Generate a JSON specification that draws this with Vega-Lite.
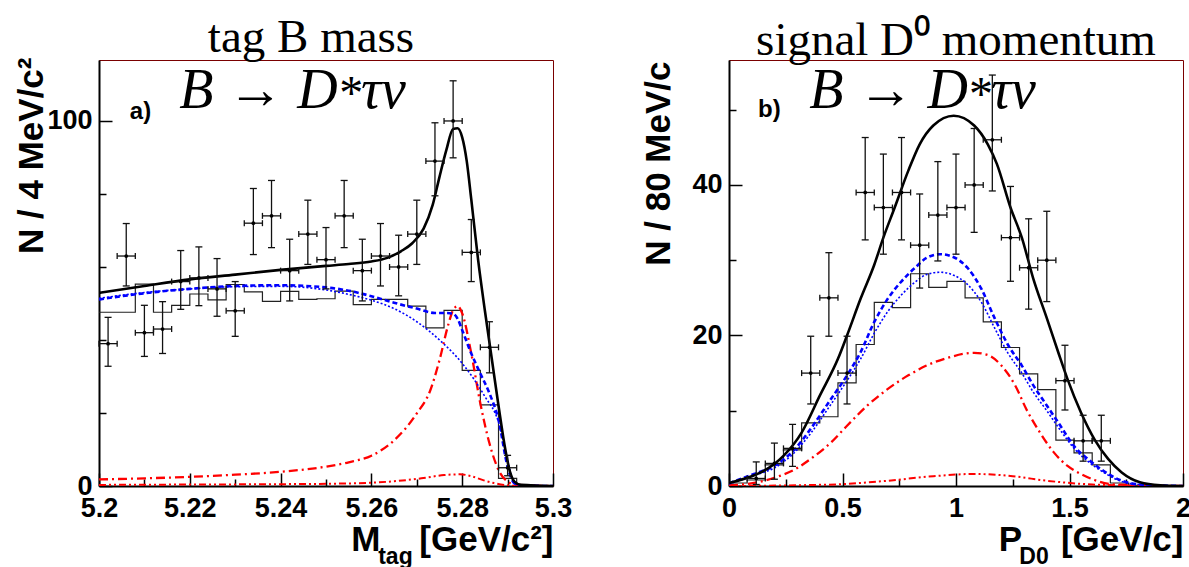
{
  "$schema": "https://vega.github.io/schema/vega-lite/v6.json",
  "autosize": {"type": "pad"},
  "padding": {"left": 13, "top": 13, "right": 0, "bottom": 0},
  "background": "white",
  "spacing": 176,
  "bounds": "flush",
  "config": {
    "view": {"stroke": "#7a0000", "strokeWidth": 1},
    "axis": {
      "grid": false,
      "domainColor": "black",
      "domainWidth": 2,
      "tickColor": "black",
      "tickWidth": 1.5,
      "labelFont": "Liberation Sans",
      "labelFontWeight": "bold",
      "labelFontSize": 27,
      "labelColor": "black",
      "labelOverlap": false,
      "labelFlush": false,
      "titleFont": "Liberation Sans",
      "titleFontWeight": "bold",
      "titleFontSize": 35,
      "titleColor": "black"
    },
    "title": {"font": "Liberation Serif", "fontSize": 47, "fontWeight": "normal", "color": "black", "anchor": "middle", "frame": "group", "baseline": "alphabetic"}
  },
  "datasets": {
    "a_pts": [
      {"x": 5.202, "xlo": 5.200, "xhi": 5.204, "y": 39, "ylo": 32.8, "yhi": 46.2},
      {"x": 5.206, "xlo": 5.204, "xhi": 5.208, "y": 63, "ylo": 54.8, "yhi": 71.9},
      {"x": 5.210, "xlo": 5.208, "xhi": 5.212, "y": 42, "ylo": 35.5, "yhi": 49.5},
      {"x": 5.214, "xlo": 5.212, "xhi": 5.216, "y": 43, "ylo": 36.3, "yhi": 50.5},
      {"x": 5.218, "xlo": 5.216, "xhi": 5.220, "y": 56, "ylo": 48.4, "yhi": 64.5},
      {"x": 5.222, "xlo": 5.220, "xhi": 5.224, "y": 57, "ylo": 49.4, "yhi": 65.5},
      {"x": 5.226, "xlo": 5.224, "xhi": 5.228, "y": 54, "ylo": 46.5, "yhi": 62.3},
      {"x": 5.230, "xlo": 5.228, "xhi": 5.232, "y": 48, "ylo": 41.0, "yhi": 56.0},
      {"x": 5.234, "xlo": 5.232, "xhi": 5.236, "y": 72, "ylo": 63.4, "yhi": 81.5},
      {"x": 5.238, "xlo": 5.236, "xhi": 5.240, "y": 74, "ylo": 65.3, "yhi": 83.7},
      {"x": 5.242, "xlo": 5.240, "xhi": 5.244, "y": 59, "ylo": 50.7, "yhi": 67.6},
      {"x": 5.246, "xlo": 5.244, "xhi": 5.248, "y": 69, "ylo": 60.7, "yhi": 78.3},
      {"x": 5.250, "xlo": 5.248, "xhi": 5.252, "y": 62, "ylo": 54.0, "yhi": 70.8},
      {"x": 5.254, "xlo": 5.252, "xhi": 5.256, "y": 74, "ylo": 65.3, "yhi": 83.7},
      {"x": 5.258, "xlo": 5.256, "xhi": 5.260, "y": 59, "ylo": 50.7, "yhi": 67.6},
      {"x": 5.262, "xlo": 5.260, "xhi": 5.264, "y": 63, "ylo": 54.8, "yhi": 71.9},
      {"x": 5.266, "xlo": 5.264, "xhi": 5.268, "y": 60, "ylo": 52.1, "yhi": 68.7},
      {"x": 5.270, "xlo": 5.268, "xhi": 5.272, "y": 69, "ylo": 60.7, "yhi": 78.3},
      {"x": 5.274, "xlo": 5.272, "xhi": 5.276, "y": 89, "ylo": 79.5, "yhi": 99.5},
      {"x": 5.278, "xlo": 5.276, "xhi": 5.280, "y": 100, "ylo": 89.9, "yhi": 111.0},
      {"x": 5.282, "xlo": 5.280, "xhi": 5.284, "y": 64, "ylo": 56.0, "yhi": 73.0},
      {"x": 5.286, "xlo": 5.284, "xhi": 5.288, "y": 38, "ylo": 31.0, "yhi": 45.0},
      {"x": 5.290, "xlo": 5.288, "xhi": 5.292, "y": 5, "ylo": 2.8, "yhi": 8.4}
    ],
    "a_hist": [
      {"x": 5.200, "n": 47.6}, {"x": 5.204, "n": 47.6}, {"x": 5.208, "n": 55.3}, {"x": 5.212, "n": 47.6},
      {"x": 5.216, "n": 49.5}, {"x": 5.220, "n": 52.6}, {"x": 5.224, "n": 51.0}, {"x": 5.228, "n": 55.2},
      {"x": 5.232, "n": 53.2}, {"x": 5.236, "n": 50.6}, {"x": 5.240, "n": 53.3}, {"x": 5.244, "n": 51.1},
      {"x": 5.248, "n": 51.3}, {"x": 5.252, "n": 53.4}, {"x": 5.256, "n": 49.7}, {"x": 5.260, "n": 51.1},
      {"x": 5.264, "n": 51.1}, {"x": 5.268, "n": 49.3}, {"x": 5.272, "n": 43.3}, {"x": 5.276, "n": 48.1},
      {"x": 5.280, "n": 31.7}, {"x": 5.284, "n": 22.2}, {"x": 5.288, "n": 2.1}, {"x": 5.292, "n": 0.3},
      {"x": 5.296, "n": 0}, {"x": 5.300, "n": 0}
    ],
    "a_fit": [
      {"c": "tot", "x": 5.200, "y": 52.9}, {"c": "tot", "x": 5.210, "y": 54.8}, {"c": "tot", "x": 5.220, "y": 56.6},
      {"c": "tot", "x": 5.230, "y": 57.9}, {"c": "tot", "x": 5.240, "y": 59.2}, {"c": "tot", "x": 5.250, "y": 60.3},
      {"c": "tot", "x": 5.255, "y": 60.8}, {"c": "tot", "x": 5.260, "y": 61.5}, {"c": "tot", "x": 5.2635, "y": 62.5},
      {"c": "tot", "x": 5.2665, "y": 64.3}, {"c": "tot", "x": 5.269, "y": 66.5}, {"c": "tot", "x": 5.2715, "y": 70.5},
      {"c": "tot", "x": 5.2735, "y": 77}, {"c": "tot", "x": 5.275, "y": 84.7}, {"c": "tot", "x": 5.2765, "y": 92},
      {"c": "tot", "x": 5.278, "y": 97.8}, {"c": "tot", "x": 5.279, "y": 98.0}, {"c": "tot", "x": 5.280, "y": 95.5},
      {"c": "tot", "x": 5.281, "y": 89}, {"c": "tot", "x": 5.282, "y": 78.5}, {"c": "tot", "x": 5.2835, "y": 62},
      {"c": "tot", "x": 5.285, "y": 48}, {"c": "tot", "x": 5.2865, "y": 35}, {"c": "tot", "x": 5.288, "y": 22},
      {"c": "tot", "x": 5.2895, "y": 10}, {"c": "tot", "x": 5.2905, "y": 4}, {"c": "tot", "x": 5.2915, "y": 1.2},
      {"c": "tot", "x": 5.293, "y": 0.3}, {"c": "tot", "x": 5.300, "y": 0},
      {"c": "bkg", "x": 5.200, "y": 51.1}, {"c": "bkg", "x": 5.210, "y": 52.8}, {"c": "bkg", "x": 5.220, "y": 54.0},
      {"c": "bkg", "x": 5.230, "y": 54.8}, {"c": "bkg", "x": 5.240, "y": 55.0}, {"c": "bkg", "x": 5.250, "y": 54.4},
      {"c": "bkg", "x": 5.255, "y": 53.5}, {"c": "bkg", "x": 5.260, "y": 52.0}, {"c": "bkg", "x": 5.265, "y": 50.2},
      {"c": "bkg", "x": 5.270, "y": 48.6}, {"c": "bkg", "x": 5.274, "y": 47.4}, {"c": "bkg", "x": 5.2765, "y": 47.4},
      {"c": "bkg", "x": 5.278, "y": 47.2}, {"c": "bkg", "x": 5.279, "y": 45.8}, {"c": "bkg", "x": 5.280, "y": 42.7},
      {"c": "bkg", "x": 5.282, "y": 36.3}, {"c": "bkg", "x": 5.284, "y": 30.8}, {"c": "bkg", "x": 5.286, "y": 25.4},
      {"c": "bkg", "x": 5.288, "y": 18.1}, {"c": "bkg", "x": 5.290, "y": 5.3}, {"c": "bkg", "x": 5.2915, "y": 0.7},
      {"c": "bkg", "x": 5.293, "y": 0.1}, {"c": "bkg", "x": 5.300, "y": 0},
      {"c": "dot", "x": 5.200, "y": 51.4}, {"c": "dot", "x": 5.210, "y": 53.0}, {"c": "dot", "x": 5.220, "y": 54.0},
      {"c": "dot", "x": 5.230, "y": 54.6}, {"c": "dot", "x": 5.240, "y": 54.7}, {"c": "dot", "x": 5.250, "y": 53.7},
      {"c": "dot", "x": 5.255, "y": 52.5}, {"c": "dot", "x": 5.260, "y": 50.9}, {"c": "dot", "x": 5.265, "y": 48.6},
      {"c": "dot", "x": 5.270, "y": 45.0}, {"c": "dot", "x": 5.275, "y": 40.0}, {"c": "dot", "x": 5.280, "y": 33.6},
      {"c": "dot", "x": 5.285, "y": 24.5}, {"c": "dot", "x": 5.288, "y": 17.5}, {"c": "dot", "x": 5.290, "y": 7.1},
      {"c": "dot", "x": 5.2915, "y": 0.7}, {"c": "dot", "x": 5.293, "y": 0.1}, {"c": "dot", "x": 5.300, "y": 0},
      {"c": "sig", "x": 5.200, "y": 1.8}, {"c": "sig", "x": 5.210, "y": 2.1}, {"c": "sig", "x": 5.220, "y": 2.5},
      {"c": "sig", "x": 5.230, "y": 3.1}, {"c": "sig", "x": 5.240, "y": 3.9}, {"c": "sig", "x": 5.250, "y": 5.3},
      {"c": "sig", "x": 5.255, "y": 6.5}, {"c": "sig", "x": 5.260, "y": 8.3}, {"c": "sig", "x": 5.265, "y": 12.5},
      {"c": "sig", "x": 5.270, "y": 19.9}, {"c": "sig", "x": 5.273, "y": 26.3}, {"c": "sig", "x": 5.275, "y": 34.5},
      {"c": "sig", "x": 5.277, "y": 44.5}, {"c": "sig", "x": 5.278, "y": 48.2}, {"c": "sig", "x": 5.279, "y": 49.3},
      {"c": "sig", "x": 5.280, "y": 47.3}, {"c": "sig", "x": 5.282, "y": 36.3}, {"c": "sig", "x": 5.284, "y": 22.6},
      {"c": "sig", "x": 5.286, "y": 11.7}, {"c": "sig", "x": 5.288, "y": 4.4}, {"c": "sig", "x": 5.290, "y": 1.2},
      {"c": "sig", "x": 5.292, "y": 0.3}, {"c": "sig", "x": 5.300, "y": 0},
      {"c": "sig2", "x": 5.200, "y": 0.3}, {"c": "sig2", "x": 5.220, "y": 0.4}, {"c": "sig2", "x": 5.240, "y": 0.5},
      {"c": "sig2", "x": 5.250, "y": 0.6}, {"c": "sig2", "x": 5.260, "y": 0.9}, {"c": "sig2", "x": 5.265, "y": 1.3},
      {"c": "sig2", "x": 5.271, "y": 2.1}, {"c": "sig2", "x": 5.276, "y": 3.0}, {"c": "sig2", "x": 5.2795, "y": 3.2},
      {"c": "sig2", "x": 5.282, "y": 2.7}, {"c": "sig2", "x": 5.2846, "y": 1.6}, {"c": "sig2", "x": 5.287, "y": 0.8},
      {"c": "sig2", "x": 5.2898, "y": 0.2}, {"c": "sig2", "x": 5.292, "y": 0.05}, {"c": "sig2", "x": 5.300, "y": 0}
    ],
    "b_pts": [
      {"x": 0.12, "xlo": 0.08, "xhi": 0.16, "y": 1, "ylo": 0.2, "yhi": 3.2},
      {"x": 0.20, "xlo": 0.16, "xhi": 0.24, "y": 3, "ylo": 0.9, "yhi": 5.7},
      {"x": 0.28, "xlo": 0.24, "xhi": 0.32, "y": 5, "ylo": 2.6, "yhi": 8.2},
      {"x": 0.36, "xlo": 0.32, "xhi": 0.40, "y": 15, "ylo": 10.9, "yhi": 19.9},
      {"x": 0.44, "xlo": 0.40, "xhi": 0.48, "y": 25, "ylo": 19.9, "yhi": 31.0},
      {"x": 0.52, "xlo": 0.48, "xhi": 0.56, "y": 15, "ylo": 10.9, "yhi": 19.9},
      {"x": 0.60, "xlo": 0.56, "xhi": 0.64, "y": 39, "ylo": 32.7, "yhi": 46.3},
      {"x": 0.68, "xlo": 0.64, "xhi": 0.72, "y": 37, "ylo": 30.8, "yhi": 44.1},
      {"x": 0.76, "xlo": 0.72, "xhi": 0.80, "y": 39, "ylo": 32.7, "yhi": 46.3},
      {"x": 0.84, "xlo": 0.80, "xhi": 0.88, "y": 32, "ylo": 26.3, "yhi": 38.8},
      {"x": 0.92, "xlo": 0.88, "xhi": 0.96, "y": 36, "ylo": 29.9, "yhi": 43.1},
      {"x": 1.00, "xlo": 0.96, "xhi": 1.04, "y": 37, "ylo": 30.8, "yhi": 44.1},
      {"x": 1.08, "xlo": 1.04, "xhi": 1.12, "y": 40, "ylo": 33.7, "yhi": 47.5},
      {"x": 1.16, "xlo": 1.12, "xhi": 1.20, "y": 46, "ylo": 39.2, "yhi": 54.6},
      {"x": 1.24, "xlo": 1.20, "xhi": 1.28, "y": 33, "ylo": 27.2, "yhi": 39.8},
      {"x": 1.32, "xlo": 1.28, "xhi": 1.36, "y": 29, "ylo": 23.5, "yhi": 35.5},
      {"x": 1.40, "xlo": 1.36, "xhi": 1.44, "y": 30, "ylo": 24.5, "yhi": 36.5},
      {"x": 1.48, "xlo": 1.44, "xhi": 1.52, "y": 14, "ylo": 10.1, "yhi": 18.7},
      {"x": 1.56, "xlo": 1.52, "xhi": 1.60, "y": 6, "ylo": 3.3, "yhi": 9.4},
      {"x": 1.64, "xlo": 1.60, "xhi": 1.68, "y": 6, "ylo": 3.3, "yhi": 9.4}
    ],
    "b_hist": [
      {"x": 0.00, "n": 0.4}, {"x": 0.08, "n": 0.8}, {"x": 0.16, "n": 2.8}, {"x": 0.24, "n": 4.8},
      {"x": 0.32, "n": 8.4}, {"x": 0.40, "n": 9.2}, {"x": 0.48, "n": 13.7}, {"x": 0.56, "n": 18.8},
      {"x": 0.64, "n": 24.4}, {"x": 0.72, "n": 23.7}, {"x": 0.80, "n": 28.2}, {"x": 0.88, "n": 26.4},
      {"x": 0.96, "n": 27.2}, {"x": 1.04, "n": 25.0}, {"x": 1.12, "n": 21.8}, {"x": 1.20, "n": 18.4},
      {"x": 1.28, "n": 14.9}, {"x": 1.36, "n": 12.8}, {"x": 1.44, "n": 6.1}, {"x": 1.52, "n": 4.4},
      {"x": 1.60, "n": 2.8}, {"x": 1.68, "n": 0.4}, {"x": 1.76, "n": 0.1}, {"x": 1.84, "n": 0},
      {"x": 1.92, "n": 0}, {"x": 2.00, "n": 0}
    ],
    "b_fit": [
      {"c": "tot", "x": 0.00, "y": 0.4}, {"c": "tot", "x": 0.10, "y": 1.3}, {"c": "tot", "x": 0.14, "y": 1.8},
      {"c": "tot", "x": 0.24, "y": 4.0}, {"c": "tot", "x": 0.32, "y": 7.1}, {"c": "tot", "x": 0.40, "y": 12.0},
      {"c": "tot", "x": 0.48, "y": 16.9}, {"c": "tot", "x": 0.52, "y": 20.0}, {"c": "tot", "x": 0.58, "y": 24.9},
      {"c": "tot", "x": 0.64, "y": 29.4}, {"c": "tot", "x": 0.68, "y": 33.0}, {"c": "tot", "x": 0.73, "y": 37.0},
      {"c": "tot", "x": 0.79, "y": 41.9}, {"c": "tot", "x": 0.84, "y": 45.4}, {"c": "tot", "x": 0.90, "y": 47.9},
      {"c": "tot", "x": 0.99, "y": 49.2}, {"c": "tot", "x": 1.08, "y": 47.9}, {"c": "tot", "x": 1.14, "y": 45.4},
      {"c": "tot", "x": 1.18, "y": 42.8}, {"c": "tot", "x": 1.24, "y": 37.0}, {"c": "tot", "x": 1.29, "y": 33.0},
      {"c": "tot", "x": 1.34, "y": 27.6}, {"c": "tot", "x": 1.40, "y": 22.3}, {"c": "tot", "x": 1.45, "y": 17.8},
      {"c": "tot", "x": 1.49, "y": 14.3}, {"c": "tot", "x": 1.55, "y": 9.8}, {"c": "tot", "x": 1.61, "y": 6.2},
      {"c": "tot", "x": 1.67, "y": 3.6}, {"c": "tot", "x": 1.73, "y": 1.8}, {"c": "tot", "x": 1.81, "y": 0.5},
      {"c": "tot", "x": 1.90, "y": 0.1}, {"c": "tot", "x": 2.00, "y": 0.0},
      {"c": "bkg", "x": 0.00, "y": 0.36}, {"c": "bkg", "x": 0.11, "y": 1.6}, {"c": "bkg", "x": 0.20, "y": 2.7},
      {"c": "bkg", "x": 0.29, "y": 4.9}, {"c": "bkg", "x": 0.36, "y": 7.6}, {"c": "bkg", "x": 0.45, "y": 11.6},
      {"c": "bkg", "x": 0.52, "y": 14.7}, {"c": "bkg", "x": 0.58, "y": 17.8}, {"c": "bkg", "x": 0.64, "y": 21.8},
      {"c": "bkg", "x": 0.70, "y": 24.9}, {"c": "bkg", "x": 0.76, "y": 27.2}, {"c": "bkg", "x": 0.82, "y": 29.0},
      {"c": "bkg", "x": 0.87, "y": 30.3}, {"c": "bkg", "x": 0.93, "y": 30.8}, {"c": "bkg", "x": 0.99, "y": 30.4},
      {"c": "bkg", "x": 1.05, "y": 29.0}, {"c": "bkg", "x": 1.11, "y": 26.3}, {"c": "bkg", "x": 1.17, "y": 22.3},
      {"c": "bkg", "x": 1.23, "y": 18.7}, {"c": "bkg", "x": 1.29, "y": 16.0}, {"c": "bkg", "x": 1.34, "y": 13.4},
      {"c": "bkg", "x": 1.40, "y": 10.7}, {"c": "bkg", "x": 1.46, "y": 8.0}, {"c": "bkg", "x": 1.52, "y": 5.3},
      {"c": "bkg", "x": 1.58, "y": 3.6}, {"c": "bkg", "x": 1.64, "y": 2.2}, {"c": "bkg", "x": 1.73, "y": 0.7},
      {"c": "bkg", "x": 1.81, "y": 0.2}, {"c": "bkg", "x": 2.00, "y": 0},
      {"c": "dot", "x": 0.00, "y": 0.27}, {"c": "dot", "x": 0.11, "y": 1.4}, {"c": "dot", "x": 0.20, "y": 2.4},
      {"c": "dot", "x": 0.29, "y": 4.5}, {"c": "dot", "x": 0.36, "y": 7.0}, {"c": "dot", "x": 0.45, "y": 10.9},
      {"c": "dot", "x": 0.52, "y": 14.0}, {"c": "dot", "x": 0.58, "y": 16.9}, {"c": "dot", "x": 0.64, "y": 20.3},
      {"c": "dot", "x": 0.70, "y": 23.2}, {"c": "dot", "x": 0.76, "y": 25.4}, {"c": "dot", "x": 0.82, "y": 27.1},
      {"c": "dot", "x": 0.87, "y": 28.1}, {"c": "dot", "x": 0.93, "y": 28.4}, {"c": "dot", "x": 0.99, "y": 28.0},
      {"c": "dot", "x": 1.05, "y": 26.8}, {"c": "dot", "x": 1.11, "y": 24.5}, {"c": "dot", "x": 1.17, "y": 21.0},
      {"c": "dot", "x": 1.23, "y": 17.6}, {"c": "dot", "x": 1.29, "y": 15.0}, {"c": "dot", "x": 1.34, "y": 12.5},
      {"c": "dot", "x": 1.40, "y": 10.0}, {"c": "dot", "x": 1.46, "y": 7.4}, {"c": "dot", "x": 1.52, "y": 5.0},
      {"c": "dot", "x": 1.58, "y": 3.3}, {"c": "dot", "x": 1.64, "y": 2.0}, {"c": "dot", "x": 1.73, "y": 0.6},
      {"c": "dot", "x": 1.81, "y": 0.2}, {"c": "dot", "x": 2.00, "y": 0},
      {"c": "sig", "x": 0.00, "y": 0.1}, {"c": "sig", "x": 0.11, "y": 0.4}, {"c": "sig", "x": 0.20, "y": 1.1},
      {"c": "sig", "x": 0.29, "y": 2.2}, {"c": "sig", "x": 0.36, "y": 3.6}, {"c": "sig", "x": 0.45, "y": 5.8},
      {"c": "sig", "x": 0.52, "y": 8.0}, {"c": "sig", "x": 0.61, "y": 10.7}, {"c": "sig", "x": 0.70, "y": 12.9},
      {"c": "sig", "x": 0.79, "y": 14.7}, {"c": "sig", "x": 0.87, "y": 16.0}, {"c": "sig", "x": 0.96, "y": 17.0},
      {"c": "sig", "x": 1.08, "y": 17.7}, {"c": "sig", "x": 1.14, "y": 17.4}, {"c": "sig", "x": 1.20, "y": 16.0},
      {"c": "sig", "x": 1.26, "y": 13.4}, {"c": "sig", "x": 1.31, "y": 10.2}, {"c": "sig", "x": 1.37, "y": 7.1},
      {"c": "sig", "x": 1.43, "y": 4.5}, {"c": "sig", "x": 1.49, "y": 2.7}, {"c": "sig", "x": 1.55, "y": 1.6},
      {"c": "sig", "x": 1.61, "y": 0.8}, {"c": "sig", "x": 1.70, "y": 0.2}, {"c": "sig", "x": 2.00, "y": 0},
      {"c": "sig2", "x": 0.00, "y": 0}, {"c": "sig2", "x": 0.30, "y": 0.1}, {"c": "sig2", "x": 0.50, "y": 0.25},
      {"c": "sig2", "x": 0.70, "y": 0.7}, {"c": "sig2", "x": 0.90, "y": 1.3}, {"c": "sig2", "x": 1.08, "y": 1.6},
      {"c": "sig2", "x": 1.25, "y": 1.3}, {"c": "sig2", "x": 1.40, "y": 0.7}, {"c": "sig2", "x": 1.60, "y": 0.2},
      {"c": "sig2", "x": 1.80, "y": 0.05}, {"c": "sig2", "x": 2.00, "y": 0}
    ]
  },
  "hconcat": [
    {
      "width": 454,
      "height": 426,
      "title": {"text": "tag B mass", "dx": -15, "offset": -5},
      "layer": [
        {
          "data": {"name": "a_hist"},
          "mark": {"type": "line", "interpolate": "step-after", "color": "#222222", "strokeWidth": 1.2, "clip": true},
          "encoding": {
            "x": {"field": "x", "type": "quantitative",
              "scale": {"domain": [5.2, 5.3], "nice": false, "zero": false},
              "axis": {
                "values": [5.2, 5.205, 5.21, 5.215, 5.22, 5.225, 5.23, 5.235, 5.24, 5.245, 5.25, 5.255, 5.26, 5.265, 5.27, 5.275, 5.28, 5.285, 5.29, 5.295, 5.3],
                "format": "~g",
                "labelExpr": "abs(datum.value*50 - round(datum.value*50)) < 0.001 ? datum.label : ''",
                "tickSize": {"condition": {"test": "abs(datum.value*50 - round(datum.value*50)) < 0.001", "value": -13}, "value": -7},
                "labelPadding": 22,
                "title": "M\u00a0\u00a0\u00a0\u00a0[GeV/c²]",
                "titleFontSize": 35,
                "titleAnchor": "end",
                "titleAlign": "right",
                "titleBaseline": "alphabetic",
                "titleX": 454,
                "titleY": 64
              }
            },
            "y": {"field": "n", "type": "quantitative",
              "scale": {"domain": [0, 116.7], "nice": false},
              "axis": {
                "values": [0, 10, 20, 30, 40, 50, 60, 70, 80, 90, 100, 110],
                "labelExpr": "datum.value % 50 == 0 ? datum.label : ''",
                "tickSize": {"condition": {"test": "datum.value % 50 == 0", "value": -13}, "value": -7},
                "labelPadding": 20,
                "title": "N / 4 MeV/c²",
                "titleAngle": -90,
                "titleAnchor": "end",
                "titleAlign": "right",
                "titleBaseline": "alphabetic",
                "titleX": -57,
                "titleY": -3
              }
            }
          }
        },
        {
          "data": {"name": "a_fit"},
          "transform": [{"filter": "datum.c == 'sig2'"}],
          "mark": {"type": "line", "interpolate": "monotone", "color": "#ff0000", "strokeWidth": 2, "strokeDash": [7, 3, 2, 3, 2, 3], "clip": true},
          "encoding": {"x": {"field": "x", "type": "quantitative"}, "y": {"field": "y", "type": "quantitative"}}
        },
        {
          "data": {"name": "a_fit"},
          "transform": [{"filter": "datum.c == 'sig'"}],
          "mark": {"type": "line", "interpolate": "monotone", "color": "#ff0000", "strokeWidth": 2.3, "strokeDash": [9, 4, 2, 4], "clip": true},
          "encoding": {"x": {"field": "x", "type": "quantitative"}, "y": {"field": "y", "type": "quantitative"}}
        },
        {
          "data": {"name": "a_fit"},
          "transform": [{"filter": "datum.c == 'dot'"}],
          "mark": {"type": "line", "interpolate": "monotone", "color": "#0000ff", "strokeWidth": 1.6, "strokeDash": [2, 2], "clip": true},
          "encoding": {"x": {"field": "x", "type": "quantitative"}, "y": {"field": "y", "type": "quantitative"}}
        },
        {
          "data": {"name": "a_fit"},
          "transform": [{"filter": "datum.c == 'bkg'"}],
          "mark": {"type": "line", "interpolate": "monotone", "color": "#0000ff", "strokeWidth": 2.6, "strokeDash": [5, 3], "clip": true},
          "encoding": {"x": {"field": "x", "type": "quantitative"}, "y": {"field": "y", "type": "quantitative"}}
        },
        {
          "data": {"name": "a_fit"},
          "transform": [{"filter": "datum.c == 'tot'"}],
          "mark": {"type": "line", "interpolate": "monotone", "color": "#000000", "strokeWidth": 2.6, "clip": true},
          "encoding": {"x": {"field": "x", "type": "quantitative"}, "y": {"field": "y", "type": "quantitative"}}
        },
        {
          "data": {"name": "a_pts"},
          "mark": {"type": "rule", "color": "#111111", "strokeWidth": 1.3},
          "encoding": {"x": {"field": "x", "type": "quantitative"}, "y": {"field": "ylo", "type": "quantitative"}, "y2": {"field": "yhi"}}
        },
        {
          "data": {"name": "a_pts"},
          "mark": {"type": "rule", "color": "#111111", "strokeWidth": 1.3},
          "encoding": {"x": {"field": "xlo", "type": "quantitative"}, "x2": {"field": "xhi"}, "y": {"field": "y", "type": "quantitative"}}
        },
        {
          "data": {"name": "a_pts"},
          "mark": {"type": "tick", "orient": "horizontal", "size": 7, "thickness": 1.3, "color": "#111111", "opacity": 1},
          "encoding": {"x": {"field": "x", "type": "quantitative"}, "y": {"field": "yhi", "type": "quantitative"}}
        },
        {
          "data": {"name": "a_pts"},
          "mark": {"type": "tick", "orient": "horizontal", "size": 7, "thickness": 1.3, "color": "#111111", "opacity": 1},
          "encoding": {"x": {"field": "x", "type": "quantitative"}, "y": {"field": "ylo", "type": "quantitative"}}
        },
        {
          "data": {"name": "a_pts"},
          "mark": {"type": "tick", "orient": "vertical", "size": 6, "thickness": 1.3, "color": "#111111", "opacity": 1},
          "encoding": {"x": {"field": "xlo", "type": "quantitative"}, "y": {"field": "y", "type": "quantitative"}}
        },
        {
          "data": {"name": "a_pts"},
          "mark": {"type": "tick", "orient": "vertical", "size": 6, "thickness": 1.3, "color": "#111111", "opacity": 1},
          "encoding": {"x": {"field": "xhi", "type": "quantitative"}, "y": {"field": "y", "type": "quantitative"}}
        },
        {
          "data": {"name": "a_pts"},
          "mark": {"type": "point", "shape": "circle", "filled": true, "size": 14, "color": "black", "opacity": 1},
          "encoding": {"x": {"field": "x", "type": "quantitative"}, "y": {"field": "y", "type": "quantitative"}}
        },
        {
          "data": {"values": [{}]},
          "mark": {"type": "text", "text": "B → D", "font": "Liberation Serif", "fontStyle": "italic", "fontSize": 56, "align": "right", "baseline": "alphabetic", "color": "black"},
          "encoding": {"x": {"datum": 5.2526}, "y": {"datum": 103.6}}
        },
        {
          "data": {"values": [{}]},
          "mark": {"type": "text", "text": "*", "font": "Liberation Serif", "fontSize": 48, "align": "left", "baseline": "alphabetic", "color": "black"},
          "encoding": {"x": {"datum": 5.2529}, "y": {"datum": 103.2}}
        },
        {
          "data": {"values": [{}]},
          "mark": {"type": "text", "text": "τν", "font": "Liberation Serif", "fontStyle": "italic", "fontSize": 56, "align": "left", "baseline": "alphabetic", "color": "black"},
          "encoding": {"x": {"datum": 5.2577}, "y": {"datum": 103.6}}
        },
        {
          "data": {"values": [{}]},
          "mark": {"type": "text", "text": "a)", "font": "Liberation Sans", "fontWeight": "bold", "fontSize": 24, "align": "left", "baseline": "alphabetic", "color": "black"},
          "encoding": {"x": {"datum": 5.2068}, "y": {"datum": 100.5}}
        },
        {
          "data": {"values": [{}]},
          "mark": {"type": "text", "text": "tag", "font": "Liberation Sans", "fontWeight": "bold", "fontSize": 23, "align": "left", "baseline": "alphabetic", "color": "black"},
          "encoding": {"x": {"datum": 5.2615}, "y": {"datum": -21.4}}
        }
      ]
    },
    {
      "width": 454,
      "height": 426,
      "title": {"text": "signal D⁰ momentum", "offset": -5},
      "layer": [
        {
          "data": {"name": "b_hist"},
          "mark": {"type": "line", "interpolate": "step-after", "color": "#222222", "strokeWidth": 1.2, "clip": true},
          "encoding": {
            "x": {"field": "x", "type": "quantitative",
              "scale": {"domain": [0, 2], "nice": false, "zero": false},
              "axis": {
                "values": [0, 0.25, 0.5, 0.75, 1, 1.25, 1.5, 1.75, 2],
                "format": "~g",
                "labelExpr": "abs(datum.value*2 - round(datum.value*2)) < 0.001 ? datum.label : ''",
                "tickSize": {"condition": {"test": "abs(datum.value*2 - round(datum.value*2)) < 0.001", "value": -13}, "value": -7},
                "labelPadding": 22,
                "title": "P\u00a0\u00a0\u00a0\u00a0[GeV/c]",
                "titleFontSize": 35,
                "titleAnchor": "end",
                "titleAlign": "right",
                "titleBaseline": "alphabetic",
                "titleX": 454,
                "titleY": 64
              }
            },
            "y": {"field": "n", "type": "quantitative",
              "scale": {"domain": [0, 56.6], "nice": false},
              "axis": {
                "values": [0, 5, 10, 15, 20, 25, 30, 35, 40, 45, 50, 55],
                "labelExpr": "datum.value % 20 == 0 ? datum.label : ''",
                "tickSize": {"condition": {"test": "datum.value % 20 == 0", "value": -13}, "value": -7},
                "labelPadding": 20,
                "title": "N / 80 MeV/c",
                "titleAngle": -90,
                "titleAnchor": "end",
                "titleAlign": "right",
                "titleBaseline": "alphabetic",
                "titleX": -60,
                "titleY": 1
              }
            }
          }
        },
        {
          "data": {"name": "b_fit"},
          "transform": [{"filter": "datum.c == 'sig2'"}],
          "mark": {"type": "line", "interpolate": "monotone", "color": "#ff0000", "strokeWidth": 2, "strokeDash": [7, 3, 2, 3, 2, 3], "clip": true},
          "encoding": {"x": {"field": "x", "type": "quantitative"}, "y": {"field": "y", "type": "quantitative"}}
        },
        {
          "data": {"name": "b_fit"},
          "transform": [{"filter": "datum.c == 'sig'"}],
          "mark": {"type": "line", "interpolate": "monotone", "color": "#ff0000", "strokeWidth": 2.3, "strokeDash": [9, 4, 2, 4], "clip": true},
          "encoding": {"x": {"field": "x", "type": "quantitative"}, "y": {"field": "y", "type": "quantitative"}}
        },
        {
          "data": {"name": "b_fit"},
          "transform": [{"filter": "datum.c == 'dot'"}],
          "mark": {"type": "line", "interpolate": "monotone", "color": "#0000ff", "strokeWidth": 1.6, "strokeDash": [2, 2], "clip": true},
          "encoding": {"x": {"field": "x", "type": "quantitative"}, "y": {"field": "y", "type": "quantitative"}}
        },
        {
          "data": {"name": "b_fit"},
          "transform": [{"filter": "datum.c == 'bkg'"}],
          "mark": {"type": "line", "interpolate": "monotone", "color": "#0000ff", "strokeWidth": 2.6, "strokeDash": [5, 3], "clip": true},
          "encoding": {"x": {"field": "x", "type": "quantitative"}, "y": {"field": "y", "type": "quantitative"}}
        },
        {
          "data": {"name": "b_fit"},
          "transform": [{"filter": "datum.c == 'tot'"}],
          "mark": {"type": "line", "interpolate": "monotone", "color": "#000000", "strokeWidth": 2.6, "clip": true},
          "encoding": {"x": {"field": "x", "type": "quantitative"}, "y": {"field": "y", "type": "quantitative"}}
        },
        {
          "data": {"name": "b_pts"},
          "mark": {"type": "rule", "color": "#111111", "strokeWidth": 1.3},
          "encoding": {"x": {"field": "x", "type": "quantitative"}, "y": {"field": "ylo", "type": "quantitative"}, "y2": {"field": "yhi"}}
        },
        {
          "data": {"name": "b_pts"},
          "mark": {"type": "rule", "color": "#111111", "strokeWidth": 1.3},
          "encoding": {"x": {"field": "xlo", "type": "quantitative"}, "x2": {"field": "xhi"}, "y": {"field": "y", "type": "quantitative"}}
        },
        {
          "data": {"name": "b_pts"},
          "mark": {"type": "tick", "orient": "horizontal", "size": 7, "thickness": 1.3, "color": "#111111", "opacity": 1},
          "encoding": {"x": {"field": "x", "type": "quantitative"}, "y": {"field": "yhi", "type": "quantitative"}}
        },
        {
          "data": {"name": "b_pts"},
          "mark": {"type": "tick", "orient": "horizontal", "size": 7, "thickness": 1.3, "color": "#111111", "opacity": 1},
          "encoding": {"x": {"field": "x", "type": "quantitative"}, "y": {"field": "ylo", "type": "quantitative"}}
        },
        {
          "data": {"name": "b_pts"},
          "mark": {"type": "tick", "orient": "vertical", "size": 6, "thickness": 1.3, "color": "#111111", "opacity": 1},
          "encoding": {"x": {"field": "xlo", "type": "quantitative"}, "y": {"field": "y", "type": "quantitative"}}
        },
        {
          "data": {"name": "b_pts"},
          "mark": {"type": "tick", "orient": "vertical", "size": 6, "thickness": 1.3, "color": "#111111", "opacity": 1},
          "encoding": {"x": {"field": "xhi", "type": "quantitative"}, "y": {"field": "y", "type": "quantitative"}}
        },
        {
          "data": {"name": "b_pts"},
          "mark": {"type": "point", "shape": "circle", "filled": true, "size": 14, "color": "black", "opacity": 1},
          "encoding": {"x": {"field": "x", "type": "quantitative"}, "y": {"field": "y", "type": "quantitative"}}
        },
        {
          "data": {"values": [{}]},
          "mark": {"type": "text", "text": "B → D", "font": "Liberation Serif", "fontStyle": "italic", "fontSize": 56, "align": "right", "baseline": "alphabetic", "color": "black"},
          "encoding": {"x": {"datum": 1.053}, "y": {"datum": 50.2}}
        },
        {
          "data": {"values": [{}]},
          "mark": {"type": "text", "text": "*", "font": "Liberation Serif", "fontSize": 48, "align": "left", "baseline": "alphabetic", "color": "black"},
          "encoding": {"x": {"datum": 1.057}, "y": {"datum": 50.0}}
        },
        {
          "data": {"values": [{}]},
          "mark": {"type": "text", "text": "τν", "font": "Liberation Serif", "fontStyle": "italic", "fontSize": 56, "align": "left", "baseline": "alphabetic", "color": "black"},
          "encoding": {"x": {"datum": 1.154}, "y": {"datum": 50.2}}
        },
        {
          "data": {"values": [{}]},
          "mark": {"type": "text", "text": "b)", "font": "Liberation Sans", "fontWeight": "bold", "fontSize": 24, "align": "left", "baseline": "alphabetic", "color": "black"},
          "encoding": {"x": {"datum": 0.128}, "y": {"datum": 49.0}}
        },
        {
          "data": {"values": [{}]},
          "mark": {"type": "text", "text": "D0", "font": "Liberation Sans", "fontWeight": "bold", "fontSize": 23, "align": "left", "baseline": "alphabetic", "color": "black"},
          "encoding": {"x": {"datum": 1.279}, "y": {"datum": -10.4}}
        }
      ]
    }
  ]
}
